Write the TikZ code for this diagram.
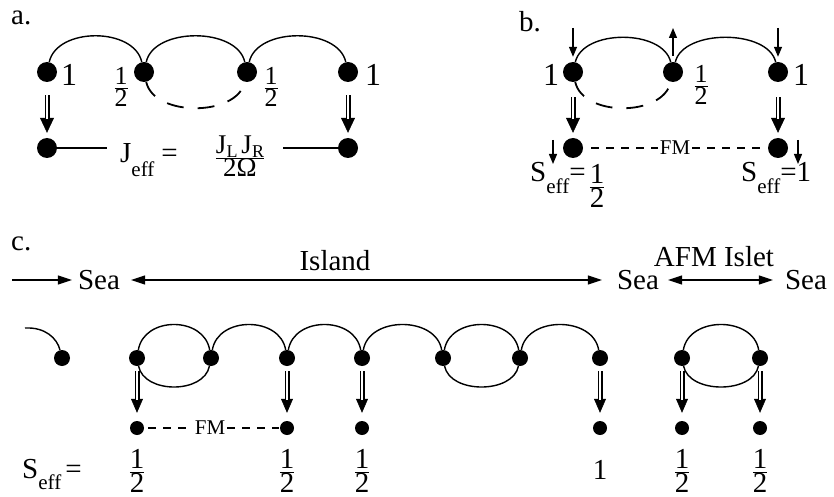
\documentclass[tikz,border=0pt]{standalone}
\usepackage{fontspec}
\setmainfont{Liberation Serif}
\usetikzlibrary{arrows.meta}
\newcommand\fs[1]{\fontsize{#1}{#1}\selectfont}
\newcommand\half{$\frac{\mbox{1}}{\mbox{2}}$}
\newcommand\dbl[6]{\draw[#1,shorten <=#4,shorten >=#5] (#2) -- (#3);
  \draw[shaft,shorten <=#4,shorten >=#6] (#2) -- (#3);}
\tikzset{
  dotA/.style={circle,fill,inner sep=0pt,minimum size=20pt},
  dotC/.style={circle,fill,inner sep=0pt,minimum size=16pt},
  dotL/.style={circle,fill,inner sep=0pt,minimum size=14pt},
  bond/.style={line width=1.4pt},
  dbond/.style={line width=1.8pt,dash pattern=on 17pt off 14pt},
  fm/.style={line width=1.1pt,dash pattern=on 8pt off 7pt},
  shaft/.style={line width=1.1pt,double distance=2.8pt},
  headA/.style={line width=0.6pt,-{Triangle[length=15pt,width=14pt]}},
  headC/.style={line width=0.6pt,-{Triangle[length=14pt,width=12pt]}},
  spin/.style={line width=1.3pt,-{Triangle[length=10pt,width=8pt]}},
  bigarr/.style={line width=1.3pt,-{Triangle[length=14pt,width=9pt]}},
  bigarr2/.style={line width=1.3pt,{Triangle[length=14pt,width=9pt]}-{Triangle[length=14pt,width=9pt]}},
  lbl/.style={font=\fs{29},inner sep=0pt},
  num/.style={font=\fs{32},inner sep=0pt},
  frA/.style={font=\fs{26},inner sep=0pt},
  frC/.style={font=\fs{29},inner sep=0pt},
  fmt/.style={font=\fs{21},inner sep=2pt},
  sea/.style={font=\fs{29},inner sep=5pt},
}
\begin{document}
\begin{tikzpicture}[x=1pt,y=-1pt]
\useasboundingbox (0,0) rectangle (834,497);
% ---------------- panel a
\node[lbl,anchor=base west] (la) at (11,25) {a.};
\node[dotA] (A1) at (47,72) {};
\node[dotA] (A2) at (144,72) {};
\node[dotA] (A3) at (247,72) {};
\node[dotA] (A4) at (348,72) {};
\node[dotA] (B1) at (47,148) {};
\node[dotA] (B4) at (348,148) {};
\draw[bond] (A1) .. controls +(10,-45) and +(-10,-45) .. (A2);
\draw[bond] (A2) .. controls +(10,-45) and +(-10,-45) .. (A3);
\draw[bond] (A3) .. controls +(10,-45) and +(-10,-45) .. (A4);
\draw[dbond] (A2) .. controls +(10,45) and +(-10,45) .. (A3);
\node[num] (a1) at (69,75) {1};
\node[frA] (a2) at (121,87) {\half};
\node[frA] (a3) at (271,87) {\half};
\node[num] (a4) at (373,75) {1};
\dbl{headA}{A1}{B1}{13pt}{5pt}{19pt}
\dbl{headA}{A4}{B4}{13pt}{5pt}{19pt}
\node[lbl,anchor=base west] (jeff) at (120,163) {J\raisebox{-0.45em}{\fs{21}eff}\hspace{7pt}=};
\node[font=\fs{27},inner sep=0pt] (jfrac) at (240,156) {$\frac{\mbox{J\raisebox{-0.15em}{\fs{18}L}\hspace{4pt}J\raisebox{-0.15em}{\fs{18}R}}}{\mbox{2Ω}}$};
\coordinate (ja) at (107,148);
\coordinate (jb) at (283,148);
\draw[bond] (B1) -- (ja);
\draw[bond] (jb) -- (B4);
% ---------------- panel b
\node[lbl,anchor=base west] (lb) at (519,32) {b.};
\node[dotA] (C1) at (573,72) {};
\node[dotA] (C2) at (673,72) {};
\node[dotA] (C3) at (778,72) {};
\node[dotA] (D1) at (573,148) {};
\node[dotA] (D3) at (778,148) {};
\draw[bond] (C1) .. controls +(10,-43) and +(-10,-43) .. (C2);
\draw[bond] (C2) .. controls +(10,-43) and +(-10,-43) .. (C3);
\draw[dbond] (C1) .. controls +(10,45) and +(-10,45) .. (C2);
\node[num] (b1) at (551,75) {1};
\node[frA] (b2) at (701,85) {\half};
\node[num] (b3) at (801,75) {1};
\coordinate (s1) at (573,28);
\coordinate (s2) at (673,28);
\coordinate (s3) at (778,28);
\draw[spin,shorten >=5pt] (s1) -- (C1);
\draw[spin,shorten <=6pt] (C2) -- (s2);
\draw[spin,shorten >=5pt] (s3) -- (C3);
\dbl{headA}{C1}{D1}{15pt}{5pt}{19pt}
\dbl{headA}{C3}{D3}{15pt}{5pt}{19pt}
\coordinate (s4a) at (553,140);
\coordinate (s4b) at (553,164);
\coordinate (s5a) at (798,140);
\coordinate (s5b) at (798,164);
\draw[spin] (s4a) -- (s4b);
\draw[spin] (s5a) -- (s5b);
\node[fmt] (fmb) at (675,148) {FM};
\draw[fm,shorten <=8pt] (D1) -- (fmb);
\draw[fm,shorten >=8pt] (fmb) -- (D3);
\node[lbl,anchor=base west] (sb1) at (530,182) {S\raisebox{-0.4em}{\fs{21}eff}=\hspace{3pt}\raisebox{-0.4em}{\half}};
\node[lbl,anchor=base west] (sb2) at (741,182) {S\raisebox{-0.4em}{\fs{21}eff}=1};
% ---------------- panel c
\node[lbl,anchor=base west] (lc) at (11,250) {c.};
\coordinate (sa) at (12,280);
\node[sea] (sea1) at (99,280) {Sea};
\node[sea] (sea2) at (638,280) {Sea};
\node[sea] (sea3) at (806,280) {Sea};
\draw[bigarr,shorten >=1pt] (sa) -- (sea1);
\draw[bigarr2,shorten <=6pt,shorten >=10pt] (sea1) -- (sea2);
\draw[bigarr2,shorten <=4pt,shorten >=7pt] (sea2) -- (sea3);
\node[lbl] (isl) at (335,261) {Island};
\node[lbl] (afm) at (714,257) {AFM Islet};
\foreach \n/\x in {0/62,1/137,2/211,3/287,4/362,5/443,6/520,7/600,8/682,9/760}
  \node[dotC] (E\n) at (\x,358) {};
\foreach \n/\x in {1/137,3/287,4/362,7/600,8/682,9/760}
  \node[dotL] (F\n) at (\x,428) {};
\coordinate (e0s) at (25,328);
\draw[bond] (e0s) .. controls (45,327) and (57,338) .. (E0);
\foreach \a/\b in {1/2,2/3,3/4,4/5,5/6,6/7,8/9}
  \draw[bond] (E\a) .. controls +(7,-42) and +(-7,-42) .. (E\b);
\foreach \a/\b in {1/2,5/6,8/9}
  \draw[bond] (E\a) .. controls +(7,36) and +(-7,36) .. (E\b);
\foreach \n in {1,3,4,7,8,9}
  {\dbl{headC}{E\n}{F\n}{5pt}{8pt}{21pt}}
\node[fmt] (fmc) at (210,428) {FM};
\draw[fm,shorten <=4pt] (F1) -- (fmc);
\draw[fm,shorten >=1pt] (fmc) -- (F3);
\node[lbl,anchor=base west] (seff) at (22,478) {S\raisebox{-0.4em}{\fs{21}eff}\hspace{4pt}=};
\foreach \n/\x in {1/137,3/287,4/362,8/682,9/760}
  \node[frC] (h\n) at (\x,471) {\half};
\node[frC] (h7) at (600,470) {1};
\end{tikzpicture}
\end{document}
